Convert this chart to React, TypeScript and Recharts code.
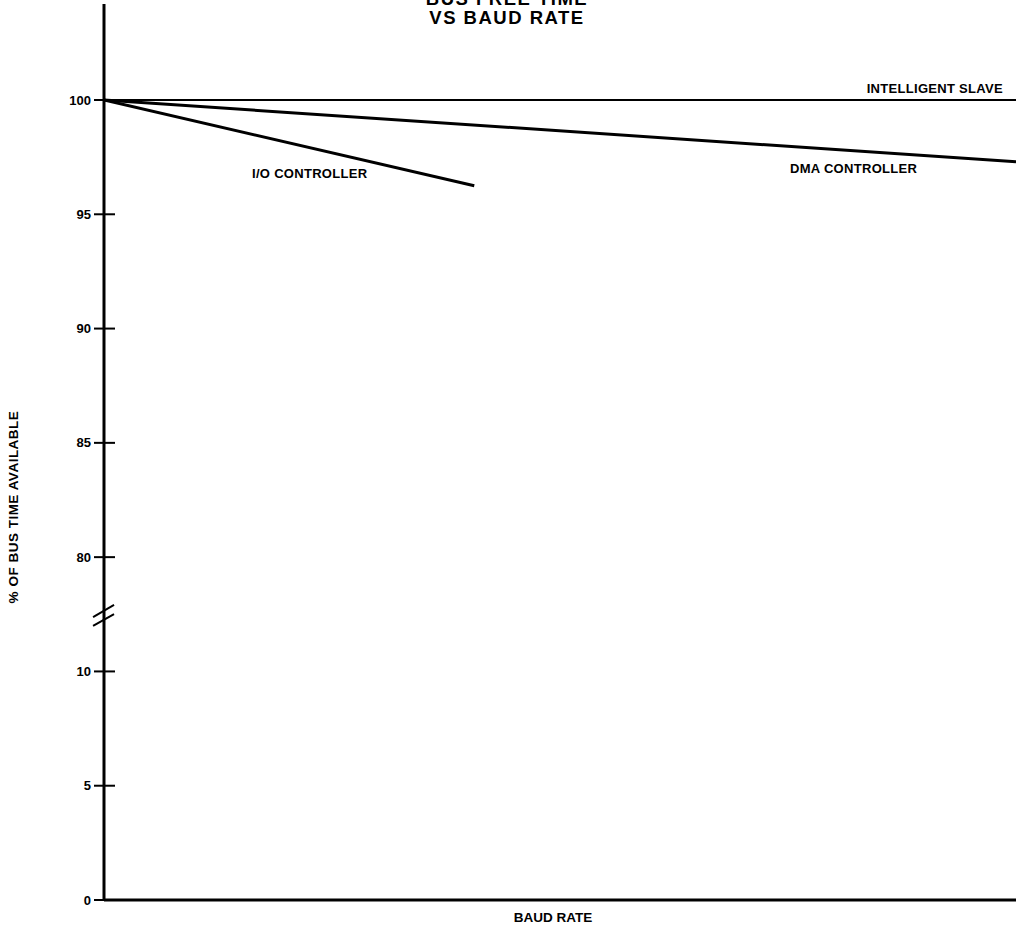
import { LineChart, Line, XAxis, YAxis, ReferenceLine } from "recharts"

// x is a relative baud-rate scale (no ticks shown), y is % of bus time
// the y axis is broken: values below the break are shifted up by BREAK_SHIFT
const BREAK_SHIFT = 65

const slaveX = [0, 100]
const slaveY = [100, 100]

const dmaX = [0, 100]
const dmaY = [100, 97.3]

const ioX = [0, 40.6]
const ioY = [100, 96.25]

const yTicks = [65, 70, 75, 80, 85, 90, 95, 100]
const yTickLabels: Record<number, string> = {
  65: "0",
  70: "5",
  75: "10",
  80: "80",
  85: "85",
  90: "90",
  95: "95",
  100: "100",
}

// axis break marks (two short slashes across the y axis)
const breakMarks = [
  [{ x: -1.2, y: 77.38 }, { x: 1.1, y: 77.91 }],
  [{ x: -1.2, y: 76.99 }, { x: 1.1, y: 77.51 }],
]

const toPoints = (xs: number[], ys: number[]) => xs.map((x, i) => ({ x, y: ys[i] }))

const FONT = "'Liberation Sans', Arial, Helvetica, sans-serif"

const YTick = (props: any) => {
  const { x, y, payload } = props
  return (
    <g>
      <line x1={x - 10} x2={x + 11} y1={y} y2={y} stroke="#000" strokeWidth={2} />
      <text
        x={x - 13}
        y={y}
        dy={4.5}
        textAnchor="end"
        fontFamily={FONT}
        fontWeight={700}
        fontSize={13}
        fill="#000"
      >
        {yTickLabels[payload.value]}
      </text>
    </g>
  )
}

const textStyle: React.CSSProperties = {
  position: "absolute",
  fontFamily: FONT,
  fontWeight: 700,
  fontSize: 12,
  color: "#000",
  whiteSpace: "nowrap",
  lineHeight: 1,
}

export default function App() {
  return (
    <div style={{ position: "absolute", left: 0, top: 0, width: 1016, height: 926, background: "#fff", overflow: "hidden" }}>
      <LineChart width={1016} height={926} margin={{ top: 4, right: 0, bottom: 0, left: 0 }}>
        <XAxis
          type="number"
          dataKey="x"
          domain={[0, 100]}
          tick={false}
          tickLine={false}
          height={26}
          axisLine={{ stroke: "#000", strokeWidth: 3 }}
          allowDataOverflow
        />
        <YAxis
          type="number"
          dataKey="y"
          domain={[BREAK_SHIFT, 104.2]}
          ticks={yTicks}
          width={104}
          tickSize={0}
          tickMargin={0}
          tick={<YTick />}
          tickLine={false}
          axisLine={{ stroke: "#000", strokeWidth: 3 }}
          allowDataOverflow
        />
        {breakMarks.map((seg, i) => (
          <ReferenceLine key={i} segment={seg} stroke="#000" strokeWidth={2} ifOverflow="visible" />
        ))}
        <Line data={toPoints(slaveX, slaveY)} dataKey="y" stroke="#000" strokeWidth={2} dot={false} isAnimationActive={false} />
        <Line data={toPoints(dmaX, dmaY)} dataKey="y" stroke="#000" strokeWidth={3} dot={false} isAnimationActive={false} />
        <Line data={toPoints(ioX, ioY)} dataKey="y" stroke="#000" strokeWidth={3} dot={false} isAnimationActive={false} />
      </LineChart>

      <div style={{ ...textStyle, left: 0, width: 1016, top: -11, textAlign: "center", fontSize: 18.5, letterSpacing: 1.5 }}>
        <div style={{ position: "relative", left: -1, lineHeight: "19px" }}>BUS FREE TIME</div>
        <div style={{ position: "relative", left: -1, lineHeight: "19px" }}>VS BAUD RATE</div>
      </div>

      <div style={{ ...textStyle, right: 13, top: 82, fontSize: 13, letterSpacing: 0.3 }}>INTELLIGENT SLAVE</div>
      <div style={{ ...textStyle, left: 790, top: 162, fontSize: 13, letterSpacing: 0.3 }}>DMA CONTROLLER</div>
      <div style={{ ...textStyle, left: 252, top: 167, fontSize: 13, letterSpacing: 0.3 }}>I/O CONTROLLER</div>
      <div style={{ ...textStyle, left: 553, top: 911, transform: "translateX(-50%)", fontSize: 13.5 }}>BAUD RATE</div>
      <div
        style={{
          ...textStyle,
          left: 14,
          top: 507,
          fontSize: 13.5,
          letterSpacing: 0.5,
          transform: "translate(-50%, -50%) rotate(-90deg)",
        }}
      >
        % OF BUS TIME AVAILABLE
      </div>
    </div>
  )
}
